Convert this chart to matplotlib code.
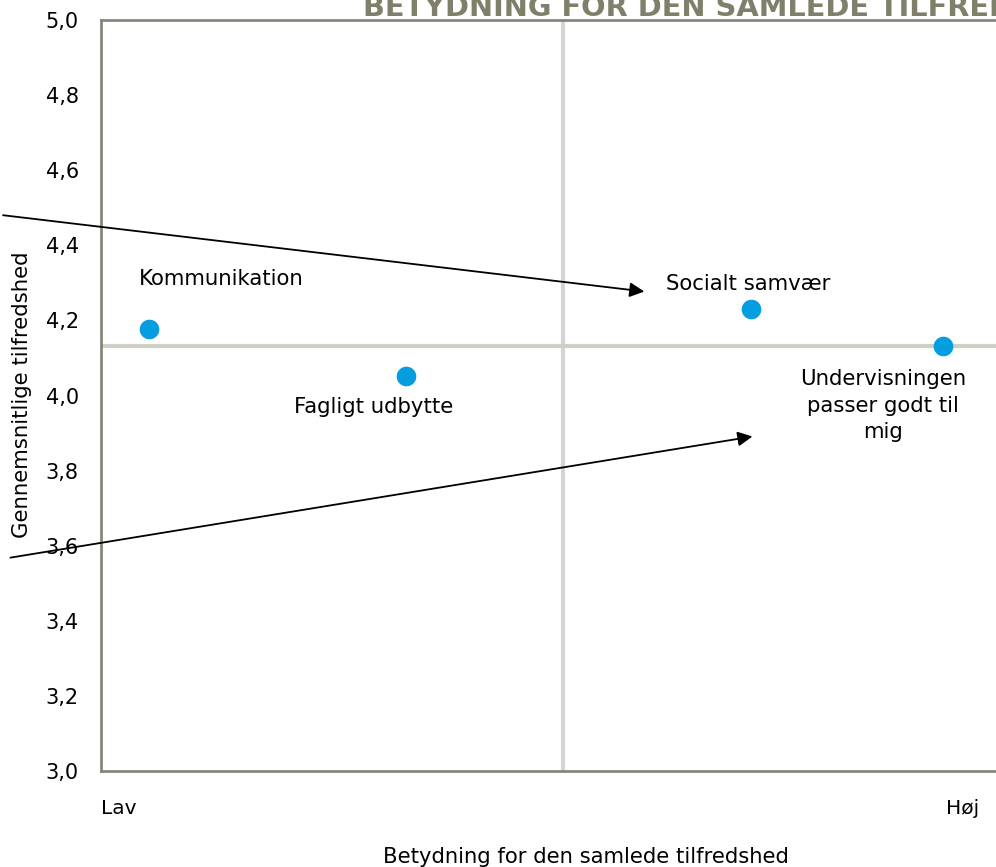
import matplotlib.pyplot as plt

# Data (x: importance for overall satisfaction, 0 = low, 1 = high)
labels = ['Kommunikation', 'Fagligt udbytte', 'Socialt samvær',
          'Undervisningen\npasser godt til\nmig']
importance = [0.052, 0.330, 0.703, 0.911]
satisfaction = [4.177, 4.052, 4.230, 4.132]
mean_importance = 0.5
mean_satisfaction = 4.132
y_ticks = [3.0, 3.2, 3.4, 3.6, 3.8, 4.0, 4.2, 4.4, 4.6, 4.8, 5.0]

fig = plt.figure(figsize=(9.96, 8.67), dpi=100)
W, H = 996, 867
# plot area runs past the right edge of the picture, like the cropped original
ax = fig.add_axes([101 / W, (H - 771) / H, 924 / W, 751 / H])

ax.axvline(mean_importance, color='#d4d4d4', lw=3, zorder=1)
ax.axhline(mean_satisfaction, color='#cfcfc4', lw=3, zorder=1)
ax.scatter(importance, satisfaction, s=200, color='#039de0', zorder=3, linewidths=0)

# label offsets in points (dx, dy)
offsets = [(52, 36), (-23, -22), (-2, 18), (-43, -43)]
for lab, x, y, (dx, dy) in zip(labels, importance, satisfaction, offsets):
    ax.annotate(lab, (x, y), xytext=(dx, dy), textcoords='offset points',
                ha='center', va='center', fontsize=15.3, linespacing=1.4)

# arrows from boxes outside the visible area
ax.annotate('', xy=(0.591, 4.276), xytext=(-0.109, 4.481),
            arrowprops=dict(arrowstyle='-|>', color='black', lw=1.3, mutation_scale=22),
            annotation_clip=False)
ax.annotate('', xy=(0.708, 3.892), xytext=(-0.101, 3.567),
            arrowprops=dict(arrowstyle='-|>', color='black', lw=1.3, mutation_scale=22),
            annotation_clip=False)

ax.set_xlim(0, 1)
ax.set_ylim(3.0, 5.0)
ax.set_yticks(y_ticks)
ax.set_yticklabels([f'{v:.1f}'.replace('.', ',') for v in y_ticks], fontsize=15)
ax.tick_params(axis='y', length=0, pad=16)
ax.set_xticks([])

for s in ax.spines.values():
    s.set_color('#86867a')
    s.set_linewidth(2)

ax.text(0, -0.037, 'Lav', transform=ax.transAxes, ha='left', va='top', fontsize=14.5)
ax.text(0.915, -0.037, 'Høj', transform=ax.transAxes, ha='left', va='top', fontsize=14.5)

fig.text(586 / W, 1 - 857 / H, 'Betydning for den samlede tilfredshed',
         ha='center', va='center', fontsize=15.2)
fig.text(22 / W, 1 - 395 / H, 'Gennemsnitlige tilfredshed', rotation=90,
         ha='center', va='center', fontsize=15.3)
fig.text(363 / W, 1 - 16 / H, 'BETYDNING FOR DEN SAMLEDE TILFREDSHED',
         ha='left', va='baseline', fontsize=20.8, fontweight='bold', color='#7f7f6a')

fig.savefig('out.png', dpi=100)
